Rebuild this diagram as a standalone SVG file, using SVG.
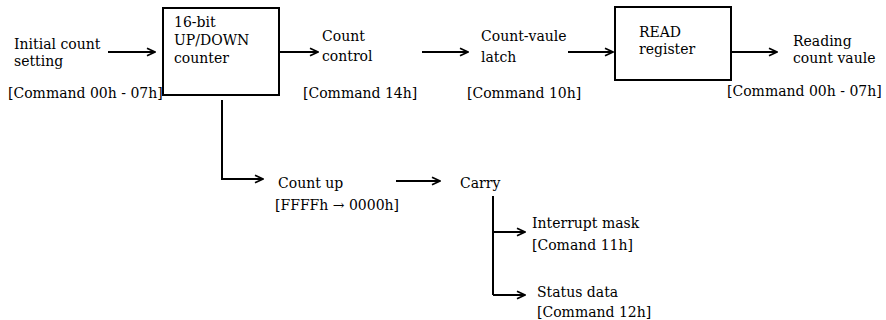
<svg xmlns="http://www.w3.org/2000/svg" width="886" height="320" viewBox="0 0 886 320">
  <defs>
    <marker id="arrow" viewBox="0 0 10 10" refX="9" refY="5" markerWidth="10" markerHeight="10" markerUnits="userSpaceOnUse" orient="auto">
      <path d="M1,1.2 L9,5 L1,8.8" fill="none" stroke="#000" stroke-width="1.8"/>
    </marker>
    <style>
      text { font-family: "DejaVu Serif", "Liberation Serif", serif; font-size: 14px; fill: #000; }
      .box { fill: #fff; stroke: #000; stroke-width: 2; }
      .wire { fill: none; stroke: #000; stroke-width: 2; }
      .arr { marker-end: url(#arrow); }
    </style>
  </defs>
  <rect width="886" height="320" fill="#fff"/>

  <!-- connectors -->
  <g id="connectors">
    <path class="wire arr" d="M108,52 H155"/>
    <path class="wire arr" d="M279,52 H318"/>
    <path class="wire arr" d="M422,52 H468"/>
    <path class="wire arr" d="M568,52 H613"/>
    <path class="wire arr" d="M731,52 H777"/>
    <path class="wire arr" d="M222,100 V179 H263"/>
    <path class="wire arr" d="M396,181 H440"/>
    <path class="wire" d="M493,196 V295"/>
    <path class="wire arr" d="M493,232 H525"/>
    <path class="wire arr" d="M493,295 H525"/>
  </g>

  <g id="initial-count">
    <text x="14" y="49">Initial count</text>
    <text x="14" y="66">setting</text>
    <text x="8" y="98">[Command 00h - 07h]</text>
  </g>

  <g id="updown-counter">
    <rect class="box" x="163" y="8" width="116" height="87"/>
    <text x="174" y="27">16-bit</text>
    <text x="174" y="45">UP/DOWN</text>
    <text x="174" y="63">counter</text>
  </g>

  <g id="count-control">
    <text x="322" y="41">Count</text>
    <text x="322" y="61">control</text>
    <text x="303" y="98">[Command 14h]</text>
  </g>

  <g id="count-latch">
    <text x="481" y="41">Count-vaule</text>
    <text x="481" y="62">latch</text>
    <text x="467" y="98">[Command 10h]</text>
  </g>

  <g id="read-register">
    <rect class="box" x="615" y="7" width="116" height="73"/>
    <text x="639" y="37">READ</text>
    <text x="639" y="54">register</text>
  </g>

  <g id="reading-count">
    <text x="793" y="46">Reading</text>
    <text x="793" y="63">count vaule</text>
    <text x="727" y="96">[Command 00h - 07h]</text>
  </g>

  <g id="count-up">
    <text x="278" y="188">Count up</text>
    <text x="275" y="210">[FFFFh → 0000h]</text>
  </g>

  <g id="carry">
    <text x="460" y="188">Carry</text>
  </g>

  <g id="interrupt-mask">
    <text x="532" y="228">Interrupt mask</text>
    <text x="532" y="250">[Comand 11h]</text>
  </g>

  <g id="status-data">
    <text x="537" y="297">Status data</text>
    <text x="537" y="317">[Command 12h]</text>
  </g>
</svg>
